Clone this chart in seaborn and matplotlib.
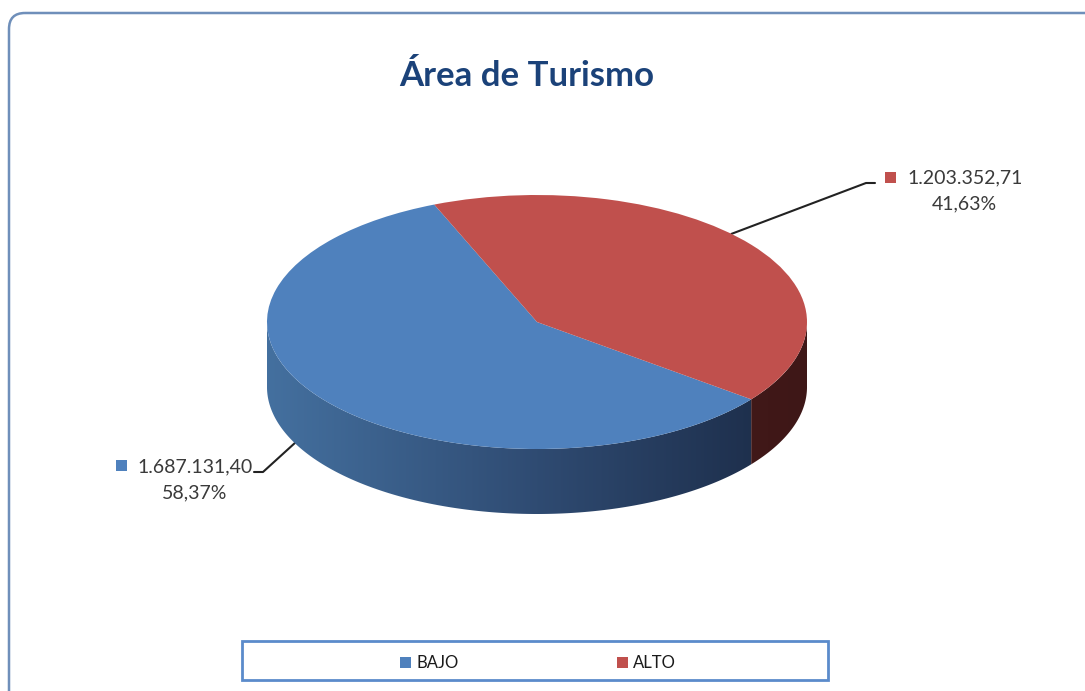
import numpy as np
import matplotlib
matplotlib.use('agg')
import matplotlib.pyplot as plt
from matplotlib.patches import FancyBboxPatch, Rectangle, Polygon
from matplotlib.colors import LinearSegmentedColormap
import seaborn as sns

# datos del gráfico
categorias = ['BAJO', 'ALTO']
valores = [1687131.40, 1203352.71]
etiquetas_valor = ['1.687.131,40', '1.203.352,71']
etiquetas_pct = ['58,37%', '41,63%']
colores = ['#4F81BD', '#C0504D']

sns.set_theme(style='white')
plt.rcParams['font.family'] = ['Lato', 'DejaVu Sans']

W, H = 1085, 691
fig = plt.figure(figsize=(W / 100, H / 100), dpi=100)

# capa de fondo en pixeles (y hacia abajo)
bg = fig.add_axes([0, 0, 1, 1], zorder=0)
bg.set_xlim(0, W)
bg.set_ylim(H, 0)
bg.axis('off')

# marco redondeado exterior
bg.add_patch(FancyBboxPatch((9, 13), 1120, 720, boxstyle='round,pad=0,rounding_size=16',
                            fill=False, ec='#6F8FBA', lw=1.8))

bg.text(527, 86, 'Área de Turismo', ha='center', va='baseline', fontsize=25,
        fontweight='bold', color='#1B4279')

# geometría de la tarta (elipse)
cx, cy, rx, ry = 537, 322, 270, 127
prof = 65 / ry
ax = fig.add_axes([(cx - 1.1 * rx) / W, (H - (cy + 1.7 * ry)) / H, 2.2 * rx / W, 2.8 * ry / H], zorder=1)

wedges, _ = ax.pie(valores, colors=colores, startangle=-37.5, counterclock=False,
                   radius=1, wedgeprops=dict(linewidth=0, zorder=3))
ax.set_aspect('auto')
ax.set_xlim(-1.1, 1.1)
ax.set_ylim(-1.7, 1.1)
ax.axis('off')

lados = {'BAJO': ['#44709F', '#2F4B72', '#1A2944'], 'ALTO': ['#5A2424', '#4C1E1E', '#3E1717']}

# paredes laterales visibles (mitad frontal) con degradado horizontal
for w, cat in zip(wedges, categorias):
    angs = np.radians(np.linspace(w.theta1, w.theta2, 600))
    angs = angs[np.sin(angs) <= 0.0005]
    if len(angs) < 2:
        continue
    arriba = np.column_stack([np.cos(angs), np.sin(angs)])
    abajo = arriba[::-1] - [0, prof]
    lado = Polygon(np.vstack([arriba, abajo]), closed=True, fc='none', ec='none', zorder=2)
    ax.add_patch(lado)
    cmap = LinearSegmentedColormap.from_list(cat, lados[cat])
    grad = np.linspace(0, 1, 256)[None, :]
    im = ax.imshow(grad, cmap=cmap, extent=(-1, 1, -1 - prof, 0.05), aspect='auto',
                   interpolation='bilinear', zorder=2)
    im.set_clip_path(lado)

ax.set_xlim(-1.1, 1.1)
ax.set_ylim(-1.7, 1.1)

def a_pixel(x, y):
    return bg.transData.inverted().transform(ax.transData.transform((x, y)))

txt = dict(fontsize=14, color='#3A3A3A')

# etiqueta ALTO
w = wedges[1]
m = np.radians((w.theta1 + w.theta2) / 2 + 6.5)
p0 = a_pixel(np.cos(m), np.sin(m))
bg.plot([p0[0], 866, 875], [p0[1], 183, 183], color='#222222', lw=1.5, zorder=5)
bg.add_patch(Rectangle((885, 172), 11, 11, fc=colores[1], ec='none'))
bg.text(907, 178, etiquetas_valor[1], ha='left', va='center', **txt)
bg.text(964, 204, etiquetas_pct[1], ha='center', va='center', **txt)

# etiqueta BAJO
w = wedges[0]
m = np.radians((w.theta1 + w.theta2) / 2 - 4)
p0 = a_pixel(np.cos(m), np.sin(m) - prof * 0.55)
bg.plot([p0[0], 263, 254], [p0[1], 472, 472], color='#222222', lw=1.5, zorder=5)
bg.add_patch(Rectangle((116, 460), 11, 11, fc=colores[0], ec='none'))
bg.text(137, 467, etiquetas_valor[0], ha='left', va='center', **txt)
bg.text(195, 493, etiquetas_pct[0], ha='center', va='center', **txt)

# leyenda inferior
bg.add_patch(Rectangle((242, 641), 586, 39, fill=False, ec='#5B8BCB', lw=2))
for x0, cat, col in zip([400, 617], categorias, colores):
    bg.add_patch(Rectangle((x0, 657), 11, 11, fc=col, ec='none'))
    bg.text(x0 + 16, 662.5, cat, ha='left', va='center', fontsize=12, color='#1A1A1A')

fig.savefig('out.png', dpi=100)
plt.close(fig)
